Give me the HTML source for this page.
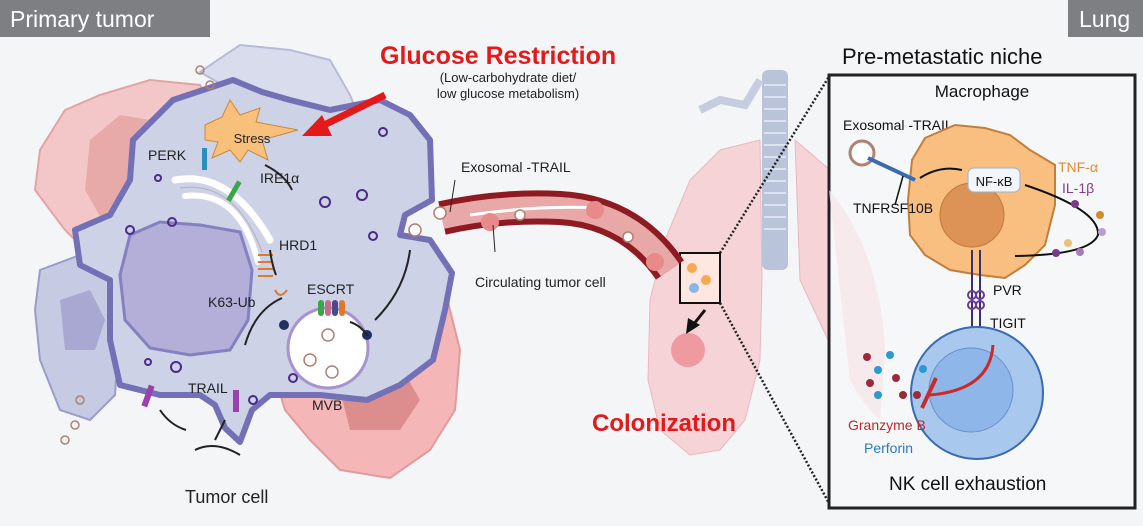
<!DOCTYPE html>
<html><head><meta charset="utf-8"><style>
html,body{margin:0;padding:0;background:#f4f5f7;}
svg{display:block;font-family:"Liberation Sans",sans-serif;}
</style></head><body>
<svg width="1143" height="526" viewBox="0 0 1143 526" xmlns="http://www.w3.org/2000/svg">
<rect width="1143" height="526" fill="#f4f5f7"/>
<!-- background cells -->
<path d="M65,110 L100,95 L150,80 L200,85 L215,110 L240,120 L230,220 L160,250 L100,265 L65,230 L35,190 L40,150 Z" fill="#f3c7c7" stroke="#e2a5a5" stroke-width="2"/>
<path d="M90,140 L120,115 L150,120 L145,210 L105,225 L85,190 Z" fill="#e8a9a9"/>
<path d="M275,275 L330,262 L400,255 L445,290 L460,350 L455,410 L430,450 L390,478 L340,470 L310,440 L285,410 L270,360 Z" fill="#f4b6b6" stroke="#e29a9a" stroke-width="2"/>
<path d="M340,390 L400,365 L420,400 L400,430 L350,430 Z" fill="#dc8e8e"/>
<path d="M200,72 L240,45 L290,50 L330,60 L350,95 L360,120 L300,110 L240,95 Z" fill="#d9dcec" stroke="#b7bad8" stroke-width="2"/>
<path d="M40,270 L80,255 L110,260 L120,320 L115,395 L90,420 L60,410 L40,360 L35,310 Z" fill="#c6cae2" stroke="#9a9ccc" stroke-width="2"/>
<path d="M60,300 L90,290 L105,320 L95,350 L65,350 Z" fill="#a9a8d2"/>
<!-- main cell -->
<path d="M173,100 L233,80 L262,92 L290,100 L330,110 L380,100 L410,115 L430,140 L432,200 L405,215 L400,235 L430,240 L452,273 L445,310 L433,360 L400,385 L367,400 L320,395 L270,395 L252,410 L240,442 L225,428 L215,405 L200,395 L160,395 L120,385 L110,340 L110,280 L80,265 L75,230 L110,215 L130,180 L133,140 Z" fill="#cdd2e6" stroke="#7470b6" stroke-width="6" stroke-linejoin="round"/>
<!-- nucleus -->
<path d="M130,235 L160,222 L200,225 L240,232 L252,270 L248,320 L230,350 L190,355 L150,348 L125,320 L120,275 Z" fill="#b3afd8" stroke="#8581c0" stroke-width="3"/>
<!-- ER / golgi -->
<path d="M175,180 Q230,170 270,240" fill="none" stroke="#fff" stroke-width="7" stroke-linecap="round"/>
<path d="M180,188 Q235,180 262,252" fill="none" stroke="#b0b0c0" stroke-width="1"/>
<path d="M185,196 Q240,190 258,262" fill="none" stroke="#fff" stroke-width="6" stroke-linecap="round"/>
<rect x="202" y="148" width="5" height="22" fill="#2a8fbf"/>
<rect x="232" y="180" width="5" height="22" fill="#3aa64a" transform="rotate(30 234 190)"/>
<g stroke="#e07a2a" stroke-width="2" fill="none"><path d="M258,255 h15 M258,262 h15 M258,269 h15 M258,276 h15"/><path d="M275,290 q5,10 12,0"/></g>
<!-- stress -->
<polygon points="205,125 222,117 230,100 240,115 260,108 256,122 298,130 262,140 268,160 248,150 240,162 230,150 212,158 218,142 205,140" fill="#f8c07a" stroke="#c88a3a"/>
<text x="252" y="143" font-size="13" text-anchor="middle" fill="#222">Stress</text>
<!-- red arrow -->
<line x1="385" y1="95" x2="318" y2="128" stroke="#e31a1a" stroke-width="7"/>
<polygon points="302,136 322,115 332,136" fill="#e31a1a"/>
<!-- MVB -->
<circle cx="328" cy="348" r="40" fill="#fff" stroke="#a894cc" stroke-width="3"/>
<g><rect x="318" y="300" width="6" height="16" rx="3" fill="#3aa64a"/><rect x="325" y="300" width="6" height="16" rx="3" fill="#c86a8a"/><rect x="332" y="300" width="6" height="16" rx="3" fill="#4a4a8a"/><rect x="339" y="300" width="6" height="16" rx="3" fill="#e0782a"/></g>
<circle cx="284" cy="325" r="5" fill="#223060"/><circle cx="367" cy="335" r="5" fill="#223060"/>
<g fill="none" stroke="#b08070" stroke-width="1.5"><circle cx="328" cy="335" r="6"/><circle cx="310" cy="360" r="6"/><circle cx="332" cy="372" r="6"/><circle cx="80" cy="400" r="4"/><circle cx="75" cy="425" r="4"/><circle cx="65" cy="440" r="4"/><circle cx="200" cy="70" r="4"/><circle cx="210" cy="85" r="4"/></g>
<g fill="none" stroke="#4a2a8a" stroke-width="2"><circle cx="130" cy="230" r="4"/><circle cx="172" cy="222" r="4"/><circle cx="158" cy="178" r="3"/><circle cx="325" cy="202" r="5"/><circle cx="362" cy="195" r="5"/><circle cx="383" cy="132" r="4"/><circle cx="373" cy="236" r="4"/><circle cx="176" cy="367" r="5"/><circle cx="148" cy="362" r="3"/><circle cx="253" cy="400" r="4"/><circle cx="293" cy="378" r="4"/></g>
<g fill="#9a40b0"><rect x="145" y="385" width="6" height="22" transform="rotate(20 148 396)"/><rect x="233" y="390" width="6" height="22"/></g>
<!-- arrows in cell -->
<g fill="none" stroke="#222" stroke-width="2"><path d="M265,165 Q285,175 292,190"/><path d="M270,250 Q272,265 276,275"/><path d="M245,345 Q255,310 282,298"/><path d="M350,322 Q360,325 368,336"/><path d="M375,320 Q405,290 410,250"/><path d="M160,410 Q170,425 186,430"/><path d="M195,450 Q215,440 240,455 M215,440 L225,420"/></g>
<text x="148" y="160" font-size="14" fill="#222">PERK</text>
<text x="260" y="183" font-size="14" fill="#222">IRE1α</text>
<text x="279" y="250" font-size="14" fill="#222">HRD1</text>
<text x="208" y="307" font-size="14" fill="#222">K63-Ub</text>
<text x="307" y="294" font-size="14" fill="#222">ESCRT</text>
<text x="188" y="393" font-size="14" fill="#222">TRAIL</text>
<text x="312" y="410" font-size="14" fill="#222">MVB</text>
<text x="185" y="503" font-size="18" fill="#222">Tumor cell</text>
<!-- labels -->
<rect x="0" y="0" width="210" height="37" fill="#7d7f82"/>
<text x="10" y="27" font-size="23" fill="#fff">Primary tumor</text>
<rect x="1068" y="0" width="75" height="37" fill="#7d7f82"/>
<text x="1079" y="27" font-size="23" fill="#fff">Lung</text>
<text x="380" y="64" font-size="25" font-weight="bold" fill="#e31a1a">Glucose Restriction</text>
<text x="508" y="82" font-size="13" text-anchor="middle" fill="#222">(Low-carbohydrate diet/</text>
<text x="508" y="98" font-size="13" text-anchor="middle" fill="#222">low glucose metabolism)</text>
<!-- lungs -->
<path d="M760,140 L720,150 L690,180 L665,240 L650,300 L648,380 L660,430 L690,455 L720,450 L745,420 L760,360 L762,280 Z" fill="#f6d3d7" stroke="#e8b9bf"/>
<path d="M795,140 L830,170 L845,230 L850,330 L828,340 L800,280 Z" fill="#f6d3d7" stroke="#e8b9bf"/>
<rect x="762" y="70" width="26" height="200" rx="6" fill="#b9c4da"/>
<g stroke="#dde2ee" stroke-width="2"><path d="M764,85h22M764,97h22M764,109h22M764,121h22M764,133h22M764,145h22M764,157h22M764,169h22M764,181h22M764,193h22M764,205h22M764,217h22M764,229h22"/></g>
<path d="M700,110 L720,100 L745,105 L760,80" fill="none" stroke="#c6cde0" stroke-width="8"/>
<circle cx="688" cy="350" r="17" fill="#ee9aa0"/>
<rect x="680" y="253" width="40" height="50" fill="#fde7e0" stroke="#111" stroke-width="2"/>
<circle cx="692" cy="268" r="5" fill="#f5a950"/><circle cx="706" cy="280" r="5" fill="#f5a950"/><circle cx="694" cy="288" r="5" fill="#87b7e6"/>
<path d="M705,310 L693,325" stroke="#111" stroke-width="3"/><polygon points="686,334 688,318 700,325" fill="#111"/>
<line x1="720" y1="253" x2="830" y2="75" stroke="#222" stroke-width="2.5" stroke-dasharray="2,2"/>
<line x1="720" y1="303" x2="830" y2="505" stroke="#222" stroke-width="2.5" stroke-dasharray="2,2"/>
<text x="592" y="431" font-size="24" font-weight="bold" fill="#e31a1a">Colonization</text>
<!-- vessel -->
<path d="M442,218 Q500,205 560,208 Q630,212 670,270" fill="none" stroke="#8e1b22" stroke-width="34"/>
<path d="M442,218 Q500,205 560,208 Q630,212 670,270" fill="none" stroke="#e8a8a8" stroke-width="22"/>
<path d="M470,215 Q540,205 600,208" fill="none" stroke="#fff" stroke-width="3"/>
<circle cx="490" cy="222" r="9" fill="#e98a8a"/><circle cx="595" cy="210" r="9" fill="#e98a8a"/><circle cx="655" cy="262" r="9" fill="#e98a8a"/>
<g fill="#fff" stroke="#b08070" stroke-width="1.5"><circle cx="440" cy="213" r="6"/><circle cx="520" cy="215" r="5"/><circle cx="628" cy="237" r="5"/><circle cx="415" cy="230" r="6"/></g>
<line x1="455" y1="180" x2="450" y2="212" stroke="#222"/>
<text x="461" y="172" font-size="14" fill="#222">Exosomal -TRAIL</text>
<line x1="493" y1="225" x2="495" y2="252" stroke="#222"/>
<text x="475" y="287" font-size="14" fill="#222">Circulating tumor cell</text>
<!-- niche -->
<text x="842" y="64" font-size="22" fill="#111">Pre-metastatic niche</text>
<rect x="829" y="75" width="306" height="433" fill="#f6f7f9" stroke="#222" stroke-width="3"/>
<path d="M829,190 Q880,250 885,350 L880,420 Q860,400 850,380" fill="#f8e6e9" opacity="0.8"/>
<text x="982" y="97" font-size="17" text-anchor="middle" fill="#111">Macrophage</text>
<text x="843" y="130" font-size="14" fill="#111">Exosomal -TRAIL</text>
<path d="M925,138 L955,125 L985,128 L1010,135 L1030,150 L1055,165 L1055,205 L1045,245 L1025,265 L1005,278 L980,275 L950,270 L925,255 L910,235 L908,200 L912,160 Z" fill="#f8bf80" stroke="#c27f3c" stroke-width="2"/>
<circle cx="972" cy="215" r="32" fill="#dd9355" stroke="#c27a3c"/>
<rect x="968" y="168" width="52" height="24" rx="6" fill="#f2f6fc" stroke="#9ab0d0"/>
<text x="994" y="186" font-size="13" text-anchor="middle" fill="#111">NF-κB</text>
<circle cx="862" cy="153" r="12" fill="#fff" stroke="#b08070" stroke-width="3"/>
<path d="M868,158 L915,180" stroke="#3a6ab0" stroke-width="4"/>
<path d="M920,178 Q940,165 962,170" fill="none" stroke="#111" stroke-width="2"/>
<path d="M903,176 L895,205" stroke="#111" stroke-width="1.5"/>
<text x="853" y="213" font-size="14" fill="#111">TNFRSF10B</text>
<text x="1058" y="172" font-size="14" fill="#e58a2a">TNF-α</text>
<text x="1062" y="193" font-size="14" fill="#8a3a8a">IL-1β</text>
<path d="M1025,185 Q1100,210 1098,235 Q1090,255 1015,256" fill="none" stroke="#111" stroke-width="2"/>
<g><circle cx="1075" cy="204" r="4" fill="#7a3a8a"/><circle cx="1100" cy="215" r="4" fill="#d88a2a"/><circle cx="1102" cy="232" r="4" fill="#b8a0d0"/><circle cx="1056" cy="253" r="4" fill="#7a3a8a"/><circle cx="1068" cy="243" r="4" fill="#e8c080"/><circle cx="1080" cy="252" r="4" fill="#a87ab8"/></g>
<g stroke="#3a3070" stroke-width="2"><line x1="972" y1="250" x2="972" y2="345"/><line x1="980" y1="250" x2="980" y2="345"/></g>
<g fill="none" stroke="#6a3a9a" stroke-width="2"><circle cx="972" cy="295" r="4"/><circle cx="980" cy="295" r="4"/><circle cx="972" cy="305" r="4"/><circle cx="980" cy="305" r="4"/></g>
<text x="993" y="295" font-size="14" fill="#111">PVR</text>
<text x="990" y="328" font-size="14" fill="#111">TIGIT</text>
<circle cx="977" cy="393" r="66" fill="#a9c8ee" stroke="#3a6ab0" stroke-width="2"/>
<circle cx="971" cy="390" r="42" fill="#8fb6e8" stroke="#6a90c8"/>
<path d="M993,345 Q990,390 930,395" fill="none" stroke="#c92a2a" stroke-width="3"/>
<line x1="936" y1="378" x2="922" y2="408" stroke="#c92a2a" stroke-width="4"/>
<g><circle cx="867" cy="357" r="4" fill="#9a2a3a"/><circle cx="890" cy="355" r="4" fill="#2a9ad0"/><circle cx="878" cy="370" r="4" fill="#2a9ad0"/><circle cx="870" cy="383" r="4" fill="#9a2a3a"/><circle cx="896" cy="378" r="4" fill="#9a2a3a"/><circle cx="878" cy="395" r="4" fill="#2a9ad0"/><circle cx="903" cy="395" r="4" fill="#9a2a3a"/><circle cx="917" cy="395" r="4" fill="#9a2a3a"/><circle cx="923" cy="369" r="4" fill="#2a9ad0"/></g>
<text x="848" y="430" font-size="14" fill="#c0282a">Granzyme B</text>
<text x="864" y="453" font-size="14" fill="#2a7ac0">Perforin</text>
<text x="889" y="490" font-size="19" fill="#111">NK cell exhaustion</text>
</svg>
</body></html>
